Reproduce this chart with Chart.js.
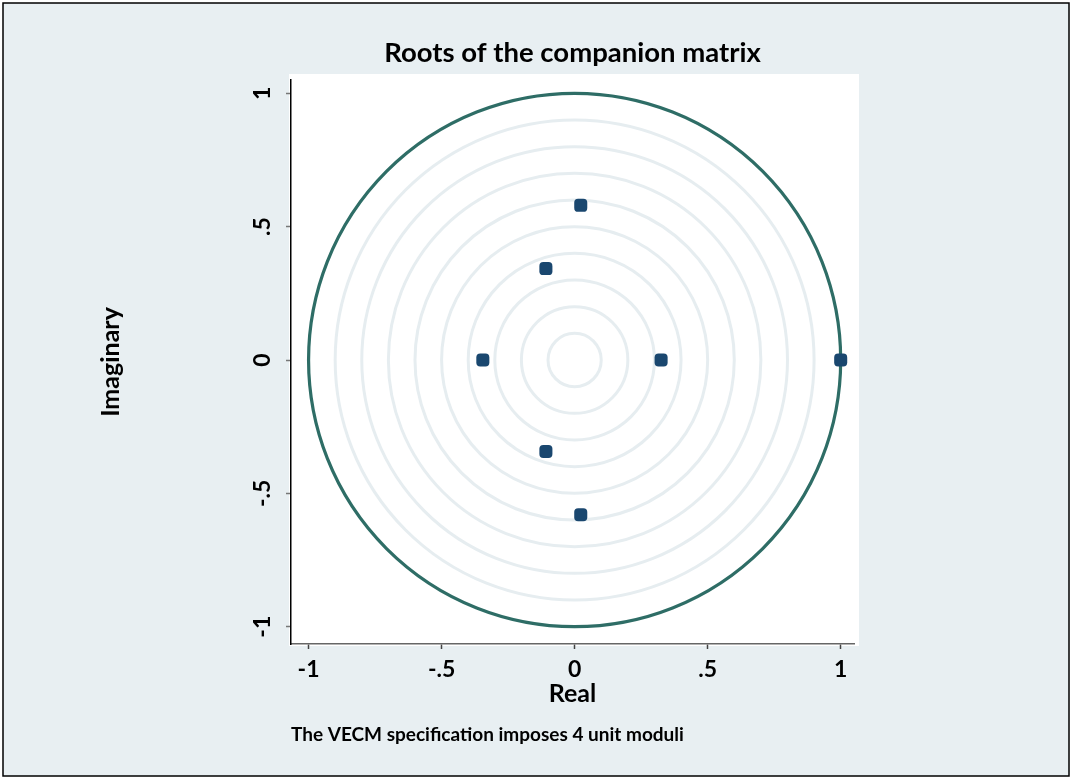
<!DOCTYPE html>
<html>
<head>
<meta charset="utf-8">
<script src="https://cdn.jsdelivr.net/npm/chart.js@4.4.0/dist/chart.umd.min.js"></script>
<style>
  html, body { margin: 0; padding: 0; background: #ffffff; }
  #wrap { width: 1072px; height: 780px; position: relative; }
  canvas { display: block; }
</style>
</head>
<body>
<div id="wrap"><canvas id="c" width="1072" height="780"></canvas></div>
<script>
// ---- data ----
const realParts = [1, 0.325, -0.345, -0.108, -0.108, 0.023, 0.023];
const imagParts = [0, 0, 0, 0.343, -0.343, 0.58, -0.58];
const tickValues = [-1, -0.5, 0, 0.5, 1];
const tickLabels = ['-1', '-.5', '0', '.5', '1'];
const gridRadii = [0.1, 0.2, 0.3, 0.4, 0.5, 0.6, 0.7, 0.8, 0.9];
const unitRadius = [1];
const xRange = [-1.066, 1.05];
const yRange = [-1.065, 1.05];
const titleText = 'Roots of the companion matrix';
const xTitleText = 'Real';
const yTitleText = 'Imaginary';
const noteText = 'The VECM specification imposes 4 unit moduli';

const BG = '#e8eff2';
const GRID_RING = '#e6edf0';
const UNIT_RING = '#2e6d66';
const MARKER = '#1a476f';
const FONT = 'Lato, "Open Sans", sans-serif';

const points = realParts.map((r, i) => ({ x: r, y: imagParts[i] }));

const backgroundPlugin = {
  id: 'bg',
  beforeDraw(chart) {
    const ctx = chart.ctx;
    const ca = chart.chartArea;
    ctx.save();
    ctx.fillStyle = '#ffffff';
    ctx.fillRect(0, 0, chart.width, chart.height);
    ctx.fillStyle = BG;
    ctx.fillRect(3, 3, 1066, 773);
    ctx.strokeStyle = '#000000';
    ctx.lineWidth = 1.5;
    ctx.strokeRect(3, 3, 1066, 773);
    ctx.fillStyle = '#ffffff';
    ctx.fillRect(ca.left - 2, ca.top - 6, ca.right - ca.left + 7, ca.bottom - ca.top + 8);
    ctx.restore();
  }
};

const ringsPlugin = {
  id: 'rings',
  beforeDatasetsDraw(chart) {
    const ctx = chart.ctx;
    const xs = chart.scales.x, ys = chart.scales.y;
    const cx = xs.getPixelForValue(0), cy = ys.getPixelForValue(0);
    const draw = (r, color, w) => {
      const rx = xs.getPixelForValue(r) - cx;
      const ry = cy - ys.getPixelForValue(r);
      ctx.beginPath();
      ctx.ellipse(cx, cy, rx, ry, 0, 0, Math.PI * 2);
      ctx.strokeStyle = color;
      ctx.lineWidth = w;
      ctx.stroke();
    };
    ctx.save();
    gridRadii.forEach(r => draw(r, GRID_RING, 3));
    unitRadius.forEach(r => draw(r, UNIT_RING, 3.2));
    ctx.restore();
  }
};

new Chart(document.getElementById('c'), {
  type: 'scatter',
  data: {
    datasets: [{
      label: 'Roots',
      data: points,
      pointStyle: 'rectRounded',
      pointRadius: 7.6,
      pointHoverRadius: 7.6,
      backgroundColor: MARKER,
      borderColor: MARKER,
      borderWidth: 0
    }]
  },
  options: {
    responsive: false,
    animation: false,
    devicePixelRatio: 1,
    layout: { padding: { left: 0, right: 218, top: 0, bottom: 33.6 } },
    plugins: {
      legend: { display: false },
      tooltip: { enabled: false },
      title: {
        display: true,
        text: titleText,
        fullSize: false,
        color: '#000000',
        font: { family: FONT, size: 27.5, weight: 'bold', lineHeight: 1.2 },
        padding: { top: 36.5, bottom: 10.5 }
      },
      subtitle: {
        display: true,
        text: noteText,
        position: 'bottom',
        align: 'start',
        fullSize: false,
        color: '#000000',
        font: { family: FONT, size: 19, weight: 'bold', lineHeight: 1.2 },
        padding: { top: 7.6, bottom: 0 }
      }
    },
    scales: {
      x: {
        type: 'linear',
        min: xRange[0],
        max: xRange[1],
        afterBuildTicks: s => { s.ticks = tickValues.map(v => ({ value: v })); },
        afterFit: s => { s.height = 72; },
        ticks: {
          autoSkip: false,
          maxRotation: 0,
          minRotation: 0,
          padding: 7.2,
          color: '#000000',
          font: { family: FONT, size: 23, weight: 'bold', lineHeight: 1.2 },
          callback: (v) => { const i = tickValues.indexOf(v); return i >= 0 ? tickLabels[i] : ''; }
        },
        grid: { display: true, drawOnChartArea: false, drawTicks: true, tickLength: 5, color: '#444444', tickWidth: 1.5 },
        border: { display: true, color: '#666666', width: 1.5 },
        title: {
          display: true,
          text: xTitleText,
          color: '#000000',
          font: { family: FONT, size: 25, weight: 'bold', lineHeight: 1.2 },
          padding: { top: 0, bottom: 7 }
        }
      },
      y: {
        type: 'linear',
        min: yRange[0],
        max: yRange[1],
        afterBuildTicks: s => { s.ticks = tickValues.map(v => ({ value: v })); },
        afterFit: s => { s.width = 291; },
        ticks: {
          autoSkip: false,
          minRotation: 90,
          maxRotation: 90,
          crossAlign: 'center',
          padding: 9.5,
          color: '#000000',
          font: { family: FONT, size: 23, weight: 'bold', lineHeight: 1.2 },
          callback: (v) => { const i = tickValues.indexOf(v); return i >= 0 ? tickLabels[i] : ''; }
        },
        grid: { display: true, drawOnChartArea: false, drawTicks: true, tickLength: 5, color: '#777777', tickWidth: 1.5 },
        border: { display: true, color: '#000000', width: 1.5 },
        title: {
          display: true,
          text: yTitleText,
          color: '#000000',
          font: { family: FONT, size: 25, weight: 'bold', lineHeight: 1.2 },
          padding: { top: 96, bottom: 0 }
        }
      }
    }
  },
  plugins: [backgroundPlugin, ringsPlugin]
});
</script>
</body>
</html>
